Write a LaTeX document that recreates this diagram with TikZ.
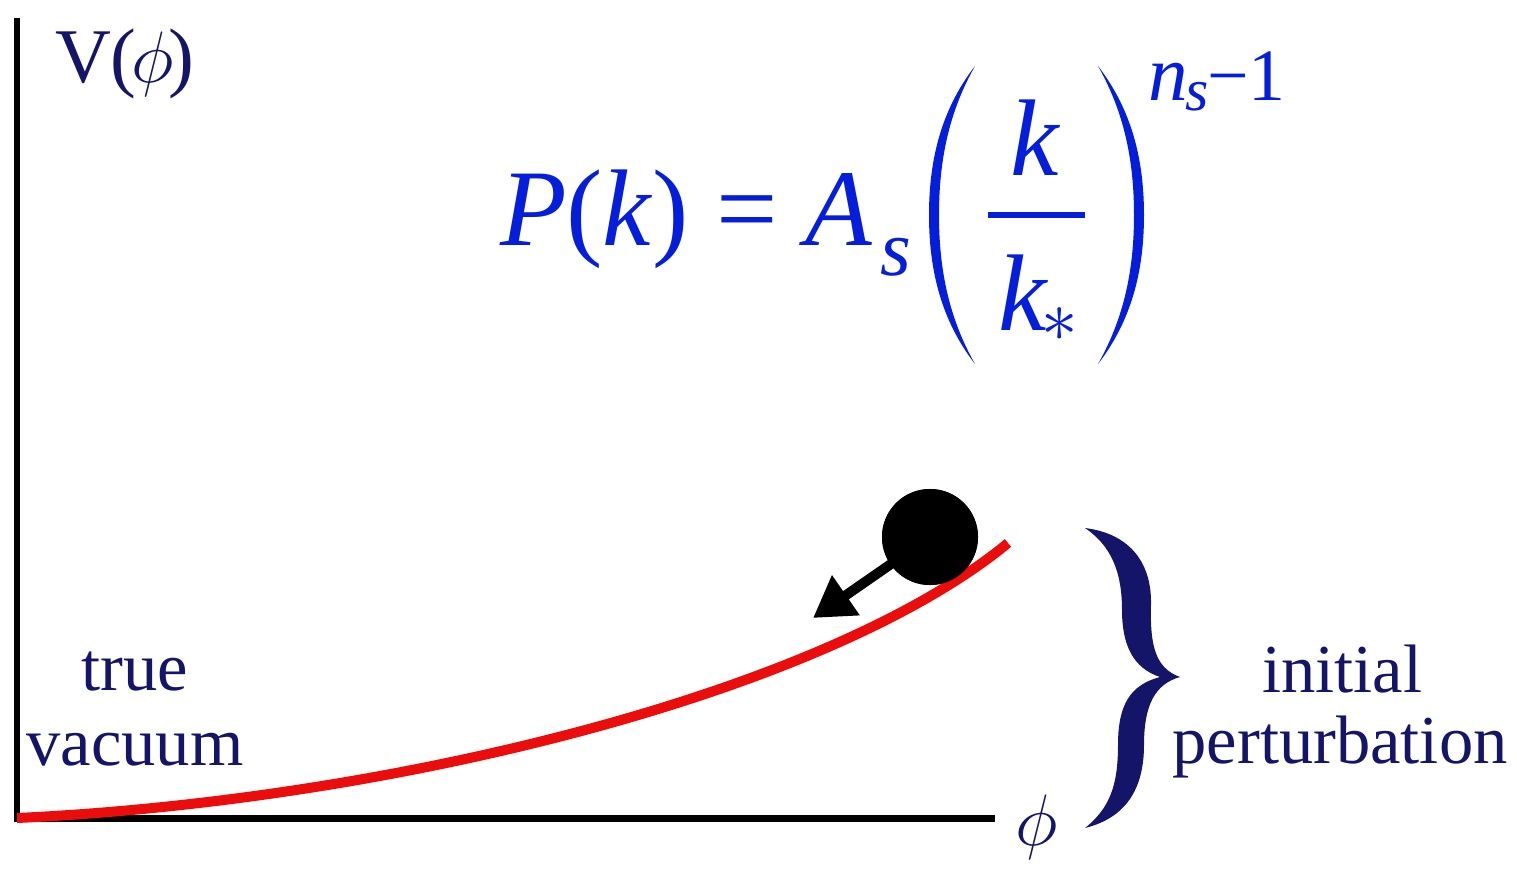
\documentclass[tikz,border=0pt]{standalone}
\usepackage{fontspec}
\setmainfont{Liberation Serif}
\newfontfamily\timesfont{Liberation Serif}
\usetikzlibrary{arrows.meta}
\definecolor{navy}{RGB}{20,20,105}
\definecolor{eqblue}{RGB}{5,30,220}
\definecolor{curvered}{RGB}{235,12,12}

\begin{document}
\begin{tikzpicture}[x=0.01cm, y=-0.01cm,
    every node/.style={inner sep=0pt, outer sep=0pt},
    lbl/.style={text=navy, anchor=base, font=\timesfont\fontsize{19.5}{21}\selectfont},
    eqbig/.style={text=eqblue, anchor=base west, font=\timesfont\fontsize{31}{33}\selectfont},
    eqsmall/.style={text=eqblue, anchor=base west, font=\timesfont\fontsize{22.5}{24}\selectfont\itshape}]
    \useasboundingbox (0,0) rectangle (1517,872);

    % Axes
    \coordinate (ytop) at (17,18);
    \coordinate (ybot) at (17,822);
    \coordinate (xbeg) at (14,818);
    \coordinate (xend) at (995,818);
    \draw[line width=0.6mm] (ytop) -- (ybot);
    \draw[line width=0.7mm] (xbeg) -- (xend);

    % Axis labels
    \node[text=navy, anchor=base west, font=\timesfont\fontsize{22}{24}\selectfont] (vlabel) at (55,82) {V(\kern-1.5pt$\phi$\kern-1.5pt)};
    \node[text=navy, font=\fontsize{22}{24}\selectfont] (philabel) at (1037,827) {$\phi$};

    % Potential curve
    \coordinate (cbeg) at (17,818);
    \coordinate (cend) at (1008,543);
    \draw[curvered, line width=1mm] (cbeg) .. controls (400,800) and (830,690) .. (cend);

    % Rolling ball with arrow
    \node[circle, fill=black, minimum size=9.6mm] (ball) at (930,537) {};
    \coordinate (arrtip) at (813,618);
    \draw[line width=1mm, -{Triangle[length=4mm, width=4.6mm]}] (ball.center) -- (arrtip);
    \fill (ball.center) circle (48);

    % Labels
    \node[lbl] (ltrue) at (135,690) {true};
    \node[lbl] (lvac) at (135,765) {vacuum};
    \node[lbl] (linit) at (1342,692) {initial};
    \node[lbl] (lpert) at (1340,763) {perturbation};

    % Brace
    \fill[navy] (1085,528) .. controls (1132,534) and (1152,565) .. (1151,605)
        .. controls (1150,645) and (1155,668) .. (1180,677)
        .. controls (1155,684) and (1144,705) .. (1144,745)
        .. controls (1144,790) and (1125,818) .. (1085,828)
        .. controls (1110,808) and (1118,785) .. (1118,745)
        .. controls (1118,705) and (1130,685) .. (1160,677)
        .. controls (1133,668) and (1122,645) .. (1122,610)
        .. controls (1122,570) and (1110,545) .. (1085,528) -- cycle;

    % Spectrum formula
    \node[eqbig] (lhs) at (500,245) {\textit{P}(\textit{k}) = \textit{A}};
    \node[eqsmall] (asub) at (880,275) {s};
    \fill[eqblue] (975,66) .. controls (941,110) and (929,160) .. (929,215)
        .. controls (929,270) and (941,320) .. (975,364)
        .. controls (949,318) and (939,270) .. (939,215)
        .. controls (939,160) and (949,112) .. (975,66) -- cycle;
    \fill[eqblue] (1098,66) .. controls (1132,110) and (1144,160) .. (1144,215)
        .. controls (1144,270) and (1132,320) .. (1098,364)
        .. controls (1124,318) and (1134,270) .. (1134,215)
        .. controls (1134,160) and (1124,112) .. (1098,66) -- cycle;
    \coordinate (fracl) at (988,215);
    \coordinate (fracr) at (1085,215);
    \draw[eqblue, line width=0.6mm] (fracl) -- (fracr);
    \node[eqbig, anchor=base] (knum) at (1035,175) {\textit{k}};
    \node[eqbig, anchor=base] (kden) at (1023,330) {\textit{k}};
    \node[text=eqblue, font=\fontsize{20}{22}\selectfont] (kstar) at (1060,325) {$\ast$};
    \node[eqsmall] (expn) at (1148,100) {n};
    \node[eqsmall, font=\timesfont\fontsize{17}{19}\selectfont\itshape] (exps) at (1185,110) {s};
    \node[eqsmall, font=\timesfont\fontsize{21}{23}\selectfont] (expm) at (1207,100) {−1};
\end{tikzpicture}
\end{document}
